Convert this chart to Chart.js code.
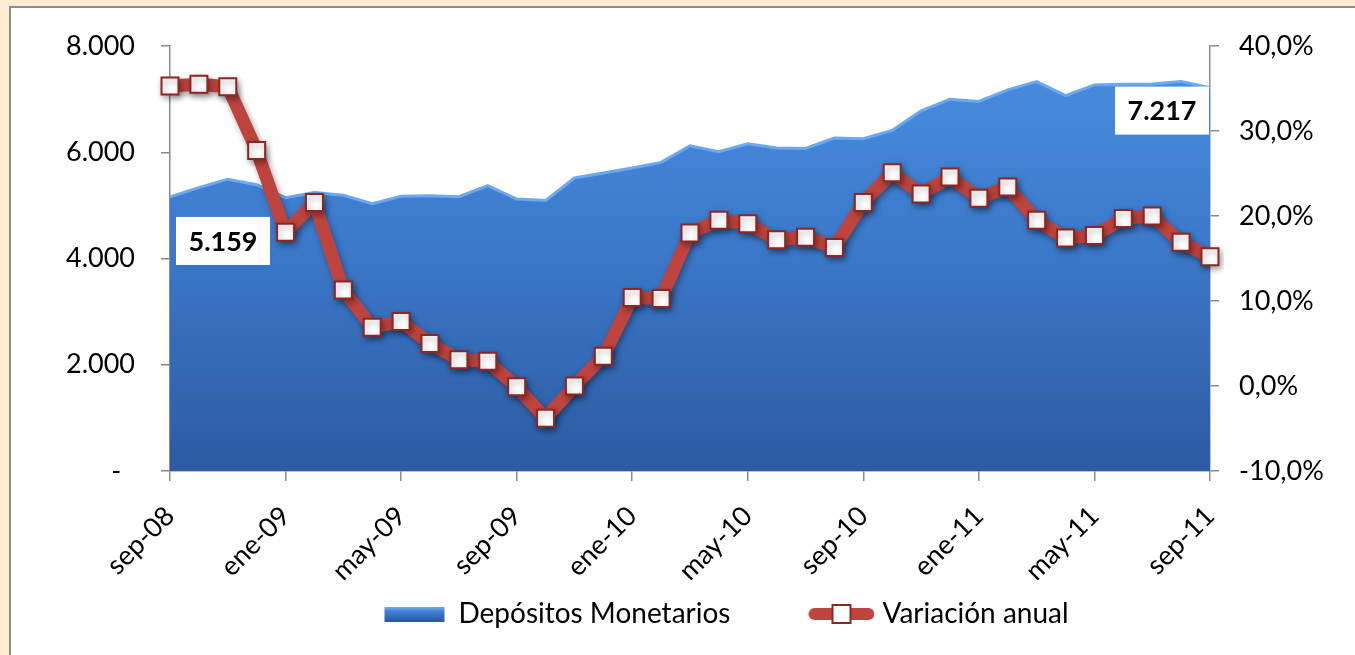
<!DOCTYPE html>
<html>
<head>
<meta charset="utf-8">
<script src="https://cdn.jsdelivr.net/npm/chart.js@4.4.1/dist/chart.umd.min.js"></script>
<style>
    body { margin: 0; background: #fdebd2; overflow: hidden; }
    #marco {
        position: absolute; left: 9px; top: 6px; width: 1400px; height: 700px;
        border: 2px solid #8d8d8d; background: #fff;
    }
    #grafico { position: absolute; left: 0; top: 0; }
</style>
</head>
<body>
<div id="marco"></div>
<canvas id="grafico" width="1355" height="655"></canvas>
<script>
const meses = [
    'sep-08', 'oct-08', 'nov-08', 'dic-08', 'ene-09', 'feb-09', 'mar-09', 'abr-09', 'may-09', 'jun-09',
    'jul-09', 'ago-09', 'sep-09', 'oct-09', 'nov-09', 'dic-09', 'ene-10', 'feb-10', 'mar-10', 'abr-10',
    'may-10', 'jun-10', 'jul-10', 'ago-10', 'sep-10', 'oct-10', 'nov-10', 'dic-10', 'ene-11', 'feb-11',
    'mar-11', 'abr-11', 'may-11', 'jun-11', 'jul-11', 'ago-11', 'sep-11'
]

// millones, eje izquierdo
const depositos = [
    5159, 5333, 5493, 5390, 5145, 5240, 5190, 5033, 5170, 5183,
    5164, 5370, 5120, 5090, 5515, 5610, 5703, 5809, 6122, 6009,
    6160, 6078, 6072, 6266, 6253, 6410, 6780, 6998, 6955, 7174,
    7330, 7067, 7268, 7280, 7287, 7330, 7217
]

// %, eje derecho
const variacion = [
    35.3, 35.5, 35.2, 27.7, 18.1, 21.6, 11.3, 6.9, 7.6, 5.0,
    3.1, 2.9, -0.1, -3.8, 0.0, 3.5, 10.4, 10.3, 18.0, 19.5,
    19.1, 17.2, 17.5, 16.3, 21.6, 25.1, 22.6, 24.6, 22.1, 23.4,
    19.5, 17.4, 17.7, 19.7, 20.0, 16.9, 15.2
]

const etiquetasDatos = [
    { indice: 0, texto: '5.159', dx: 53, dy: 44 },
    { indice: 36, texto: '7.217', dx: -48, dy: 23 }
]

const fuente = 'Lato'
const gris = '#8a8a8a'

function iconoArea() {
    const c = document.createElement('canvas')
    c.width = 130
    c.height = 26
    const ctx = c.getContext('2d')
    const g = ctx.createLinearGradient(0, 5, 0, 21)
    g.addColorStop(0, '#7db4f2')
    g.addColorStop(0.35, '#3f80d2')
    g.addColorStop(1, '#2a579c')
    ctx.fillStyle = g
    ctx.fillRect(64, 6, 60, 15)
    return c
}

function iconoLinea() {
    const c = document.createElement('canvas')
    c.width = 130
    c.height = 26
    const ctx = c.getContext('2d')
    ctx.strokeStyle = '#c0443e'
    ctx.lineWidth = 12
    ctx.lineCap = 'round'
    ctx.beginPath()
    ctx.moveTo(70, 13)
    ctx.lineTo(124, 13)
    ctx.stroke()
    ctx.fillStyle = '#fff'
    ctx.strokeStyle = '#8e2622'
    ctx.lineWidth = 2
    ctx.fillRect(88, 4, 18, 18)
    ctx.strokeRect(88, 4, 18, 18)
    return c
}

const sombraLinea = {
    id: 'sombraLinea',
    beforeDatasetDraw(chart, args) {
        if (args.index !== 1) return
        const ctx = chart.ctx
        ctx.save()
        ctx.shadowColor = 'rgba(0, 0, 0, 0.35)'
        ctx.shadowBlur = 6
        ctx.shadowOffsetX = 2
        ctx.shadowOffsetY = 3
    },
    afterDatasetDraw(chart, args) {
        if (args.index !== 1) return
        chart.ctx.restore()
    }
}

const cajasDatos = {
    id: 'cajasDatos',
    afterDatasetsDraw(chart) {
        const ctx = chart.ctx
        const meta = chart.getDatasetMeta(0)
        etiquetasDatos.forEach(e => {
            const p = meta.data[e.indice]
            const cx = p.x + e.dx
            const cy = p.y + e.dy
            ctx.save()
            ctx.fillStyle = '#fff'
            ctx.fillRect(cx - 47, cy - 24, 94, 48)
            ctx.fillStyle = '#000'
            ctx.font = `bold 27px ${fuente}`
            ctx.textAlign = 'center'
            ctx.textBaseline = 'middle'
            ctx.fillText(e.texto, cx, cy + 1)
            ctx.restore()
        })
    }
}

const miles = v => String(v).replace(/\B(?=(\d{3})+(?!\d))/g, '.')

new Chart(document.getElementById('grafico'), {
    type: 'line',
    data: {
        labels: meses,
        datasets: [
            {
                label: 'Depósitos Monetarios',
                data: depositos,
                yAxisID: 'y',
                order: 2,
                fill: 'origin',
                borderColor: '#6aa8f2',
                borderWidth: 3,
                pointRadius: 0,
                tension: 0,
                backgroundColor: (c) => {
                    const area = c.chart.chartArea
                    if (!area) return '#3d7ccc'
                    const g = c.chart.ctx.createLinearGradient(0, area.top, 0, area.bottom)
                    g.addColorStop(0, '#4a8fe2')
                    g.addColorStop(0.45, '#3c7acb')
                    g.addColorStop(1, '#2d5ba3')
                    return g
                }
            },
            {
                label: 'Variación anual',
                data: variacion,
                yAxisID: 'y1',
                order: 1,
                fill: false,
                borderColor: '#c0443e',
                borderWidth: 13,
                borderJoinStyle: 'round',
                tension: 0,
                pointStyle: 'rect',
                pointRadius: 12,
                pointBackgroundColor: '#fff',
                pointBorderColor: '#8e2622',
                pointBorderWidth: 2
            }
        ]
    },
    plugins: [sombraLinea, cajasDatos],
    options: {
        responsive: false,
        animation: false,
        layout: { padding: { left: 40, top: 46, right: 0, bottom: 17 } },
        plugins: {
            tooltip: { enabled: false },
            legend: {
                position: 'bottom',
                labels: {
                    usePointStyle: true,
                    pointStyleWidth: 118,
                    padding: 20,
                    color: '#000',
                    font: { family: fuente, size: 28 },
                    generateLabels: () => [
                        { text: 'Depósitos Monetarios', datasetIndex: 0, pointStyle: iconoArea(), fontColor: '#000' },
                        { text: 'Variación anual', datasetIndex: 1, pointStyle: iconoLinea(), fontColor: '#000' }
                    ]
                }
            }
        },
        scales: {
            x: {
                offset: false,
                grid: {
                    drawOnChartArea: false,
                    tickLength: 10,
                    lineWidth: 1.5,
                    color: (c) => c.index % 4 === 0 ? gris : 'rgba(0,0,0,0)'
                },
                border: { color: gris, width: 1.5 },
                ticks: {
                    autoSkip: false,
                    minRotation: 45,
                    maxRotation: 45,
                    padding: 19,
                    color: '#000',
                    font: { family: fuente, size: 27 },
                    callback: (v, i) => i % 4 === 0 ? meses[i] : ''
                },
                afterFit: (s) => { s.height = 109 }
            },
            y: {
                position: 'left',
                min: 0,
                max: 8000,
                grid: { drawOnChartArea: false, tickLength: 9, color: gris, lineWidth: 1.5 },
                border: { color: gris, width: 1.5 },
                ticks: {
                    stepSize: 2000,
                    padding: 26,
                    color: '#000',
                    font: { family: fuente, size: 27 },
                    callback: (v) => v === 0 ? '-  ' : miles(v)
                },
                afterFit: (s) => { s.width = 130 }
            },
            y1: {
                position: 'right',
                min: -10,
                max: 40,
                grid: { drawOnChartArea: false, tickLength: 9, color: gris, lineWidth: 1.5 },
                border: { color: gris, width: 1.5 },
                ticks: {
                    stepSize: 10,
                    padding: 20,
                    color: '#000',
                    font: { family: fuente, size: 27 },
                    callback: (v) => v.toFixed(1).replace('.', ',') + '%'
                },
                afterFit: (s) => { s.width = 145 }
            }
        }
    }
})
</script>
</body>
</html>
